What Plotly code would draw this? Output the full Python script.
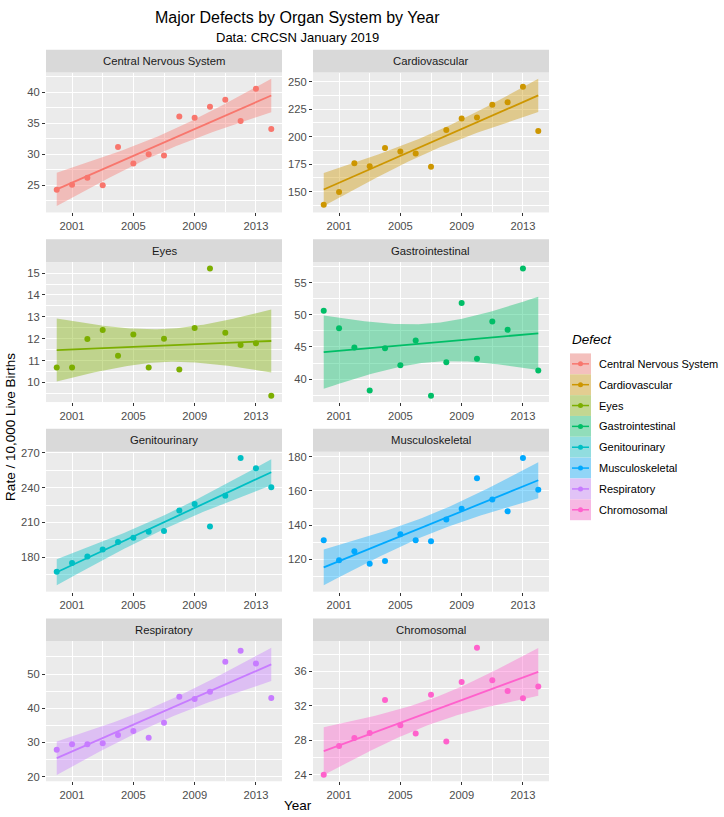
import numpy as np
import plotly.graph_objects as go

# ---------------- data ----------------
years = list(range(2000, 2015))
defects = ["Central Nervous System", "Cardiovascular", "Eyes", "Gastrointestinal",
           "Genitourinary", "Musculoskeletal", "Respiratory", "Chromosomal"]
colors = ["#F8766D", "#CD9600", "#7CAE00", "#00BE67",
          "#00BFC4", "#00A9FF", "#C77CFF", "#FF61CC"]

cns = [24.3, 25.1, 26.2, 25.0, 31.2, 28.5, 30.0, 29.8, 36.1, 35.9, 37.7, 38.8, 35.4, 40.6, 34.1]
cardio = [138.1, 149.7, 175.8, 173.1, 189.8, 186.5, 184.7, 172.6, 206.1, 216.5, 217.4, 228.9, 231.3, 245.3, 205.2]
eyes = [10.69, 10.69, 11.99, 12.4, 11.22, 12.19, 10.69, 12.0, 10.6, 12.49, 15.21, 12.28, 11.72, 11.8, 9.4]
gastro = [50.65, 47.93, 44.91, 38.2, 44.8, 42.15, 46.0, 37.4, 42.6, 51.88, 43.17, 48.96, 47.68, 57.25, 41.33]
genito = [167.6, 175.2, 180.8, 186.8, 193.3, 196.9, 202.0, 202.8, 220.3, 226.0, 206.5, 233.0, 265.5, 256.7, 240.4]
musculo = [131.3, 119.6, 124.8, 117.5, 119.2, 134.7, 131.3, 130.7, 143.3, 149.6, 167.4, 155.0, 148.1, 179.2, 160.7]
resp = [27.9, 29.5, 29.5, 29.8, 32.2, 33.4, 31.4, 35.8, 43.4, 42.7, 44.8, 53.6, 56.8, 53.1, 43.0]
chromo = [24.0, 27.35, 28.27, 28.84, 32.69, 29.75, 28.8, 33.3, 27.85, 34.78, 38.78, 35.0, 33.75, 32.88, 34.25]
series = [cns, cardio, eyes, gastro, genito, musculo, resp, chromo]

# y tick settings per panel (major start, major step)
ytick0 = [25, 150, 10, 40, 180, 120, 20, 24]
ydtick = [5, 25, 1, 5, 30, 20, 10, 4]
xtick_labels = ["2001", "2005", "2009", "2013"]

# ---------------- geometry ----------------
W, H = 724, 817
col_x = [(46, 282), (313, 549)]
strip_tops = [45, 236, 427, 618]
STRIP_H = 23
PLOT_H = 141
FONT = "Liberation Sans, Arial, sans-serif"
TICK_SIZE = 11.2
STRIP_SIZE = 11.3
LEG_SIZE = 11


def lm_band(x, y, n=80, t=2.1604):
    x = np.asarray(x, float)
    y = np.asarray(y, float)
    xm = x.mean()
    sxx = ((x - xm) ** 2).sum()
    b = ((x - xm) * (y - y.mean())).sum() / sxx
    a = y.mean() - b * xm
    resid = y - (a + b * x)
    s = np.sqrt((resid ** 2).sum() / (len(x) - 2))
    xs = np.linspace(x.min(), x.max(), n)
    fit = a + b * xs
    se = s * np.sqrt(1 / len(x) + (xs - xm) ** 2 / sxx)
    return xs, fit, fit - t * se, fit + t * se


def rgba(hexc, a):
    h = hexc.lstrip("#")
    r, g, b = int(h[0:2], 16), int(h[2:4], 16), int(h[4:6], 16)
    return f"rgba({r},{g},{b},{a})"


fig = go.Figure()
layout = dict(
    width=W, height=H, margin=dict(l=0, r=0, t=0, b=0),
    paper_bgcolor="white", plot_bgcolor="#EBEBEB",
    showlegend=False, font=dict(family=FONT, color="#4D4D4D"),
)
shapes = []
annotations = []

x_lo, x_hi = min(years), max(years)
xpad = 0.05 * (x_hi - x_lo)

for i, (name, col, ys) in enumerate(zip(defects, colors, series)):
    r, c = divmod(i, 2)
    ax = "" if i == 0 else str(i + 1)
    xs, fit, lo, hi = lm_band(years, ys)

    fig.add_trace(go.Scatter(
        x=np.concatenate([xs, xs[::-1]]), y=np.concatenate([hi, lo[::-1]]),
        fill="toself", fillcolor=rgba(col, 0.4), line=dict(width=0),
        mode="lines", hoverinfo="skip", xaxis="x" + ax, yaxis="y" + ax, name=name))
    fig.add_trace(go.Scatter(
        x=xs, y=fit, mode="lines", line=dict(color=col, width=1.8),
        xaxis="x" + ax, yaxis="y" + ax, name=name))
    fig.add_trace(go.Scatter(
        x=years, y=ys, mode="markers", marker=dict(color=col, size=6),
        xaxis="x" + ax, yaxis="y" + ax, name=name))

    ymin = min(min(ys), lo.min())
    ymax = max(max(ys), hi.max())
    ypad = 0.05 * (ymax - ymin)

    px0, px1 = col_x[c]
    top = strip_tops[r] + STRIP_H
    bot = top + PLOT_H
    layout["xaxis" + ax] = dict(
        domain=[px0 / W, px1 / W], anchor="y" + ax,
        range=[x_lo - xpad, x_hi + xpad],
        tickmode="array", tickvals=[int(v) for v in xtick_labels], ticktext=xtick_labels,
        ticks="outside", ticklen=3, tickcolor="#333333", tickwidth=1,
        tickfont=dict(size=TICK_SIZE, color="#4D4D4D", family=FONT),
        showgrid=True, gridcolor="white", gridwidth=1.1, zeroline=False, showline=False,
        minor=dict(tickmode="linear", tick0=1999, dtick=2, showgrid=True,
                   gridcolor="white", gridwidth=0.5, ticks=""),
    )
    layout["yaxis" + ax] = dict(
        domain=[1 - bot / H, 1 - top / H], anchor="x" + ax,
        range=[ymin - ypad, ymax + ypad],
        tickmode="linear", tick0=ytick0[i], dtick=ydtick[i],
        ticks="outside", ticklen=3, tickcolor="#333333", tickwidth=1,
        tickfont=dict(size=TICK_SIZE, color="#4D4D4D", family=FONT),
        showgrid=True, gridcolor="white", gridwidth=1.1, zeroline=False, showline=False,
        minor=dict(tickmode="linear", tick0=ytick0[i] - ydtick[i] / 2, dtick=ydtick[i] / 2,
                   showgrid=True, gridcolor="white", gridwidth=0.5, ticks=""),
    )
    # strip
    st = strip_tops[r]
    shapes.append(dict(type="rect", xref="paper", yref="paper",
                       x0=px0 / W, x1=px1 / W, y0=1 - (st + STRIP_H) / H, y1=1 - st / H,
                       fillcolor="#D9D9D9", line=dict(width=0), layer="below"))
    annotations.append(dict(text=name, xref="paper", yref="paper",
                            x=(px0 + px1) / 2 / W, y=1 - (st + STRIP_H / 2) / H,
                            showarrow=False, xanchor="center", yanchor="middle",
                            font=dict(size=STRIP_SIZE, color="#1A1A1A", family=FONT)))

# titles
cx = (col_x[0][0] + col_x[1][1]) / 2 / W
annotations.append(dict(text="Major Defects by Organ System by Year", xref="paper", yref="paper",
                        x=cx, y=1 - 13 / H, showarrow=False, xanchor="center", yanchor="middle",
                        font=dict(size=16, color="#000000", family=FONT)))
annotations.append(dict(text="Data: CRCSN January 2019", xref="paper", yref="paper",
                        x=cx, y=1 - 33 / H, showarrow=False, xanchor="center", yanchor="middle",
                        font=dict(size=13, color="#000000", family=FONT)))
annotations.append(dict(text="Year", xref="paper", yref="paper",
                        x=cx, y=1 - 806 / H, showarrow=False, xanchor="center", yanchor="middle",
                        font=dict(size=13.5, color="#000000", family=FONT)))
annotations.append(dict(text="Rate / 10,000 Live Births", xref="paper", yref="paper",
                        x=11 / W, y=1 - 425 / H, showarrow=False, xanchor="center", yanchor="middle",
                        textangle=-90, font=dict(size=13.5, color="#000000", family=FONT)))

# legend (ggplot-style keys)
LX0, LX1 = 570, 591
LTOP = 351
KEY = 21
annotations.append(dict(text="<i>Defect</i>", xref="paper", yref="paper",
                        x=LX0 / W, y=1 - 337 / H, showarrow=False, xanchor="left", yanchor="middle",
                        font=dict(size=13.5, color="#000000", family=FONT)))
for k, (name, col) in enumerate(zip(defects, colors)):
    y0 = LTOP + k * KEY
    yc = y0 + KEY / 2
    shapes.append(dict(type="rect", xref="paper", yref="paper",
                       x0=LX0 / W, x1=LX1 / W, y0=1 - (y0 + KEY) / H, y1=1 - y0 / H,
                       fillcolor="#F2F2F2", line=dict(width=0)))
    shapes.append(dict(type="rect", xref="paper", yref="paper",
                       x0=LX0 / W, x1=LX1 / W, y0=1 - (y0 + KEY) / H, y1=1 - y0 / H,
                       fillcolor=rgba(col, 0.4), line=dict(width=0)))
    shapes.append(dict(type="line", xref="paper", yref="paper",
                       x0=(LX0 + 2) / W, x1=(LX1 - 2) / W, y0=1 - yc / H, y1=1 - yc / H,
                       line=dict(color=col, width=1.5)))
    shapes.append(dict(type="circle", xref="paper", yref="paper",
                       xsizemode="pixel", ysizemode="pixel",
                       xanchor=(LX0 + LX1) / 2 / W, yanchor=1 - yc / H,
                       x0=-2.5, x1=2.5, y0=-2.5, y1=2.5,
                       fillcolor=col, line=dict(width=0)))
    annotations.append(dict(text=name, xref="paper", yref="paper",
                            x=597 / W, y=1 - yc / H, showarrow=False, xanchor="left", yanchor="middle",
                            font=dict(size=LEG_SIZE, color="#000000", family=FONT)))

layout["shapes"] = shapes
layout["annotations"] = annotations
fig.update_layout(**layout)
fig.write_html("out.html", config={"displayModeBar": False},
               post_script="document.body.style.margin='0px';document.body.style.overflow='hidden';")
